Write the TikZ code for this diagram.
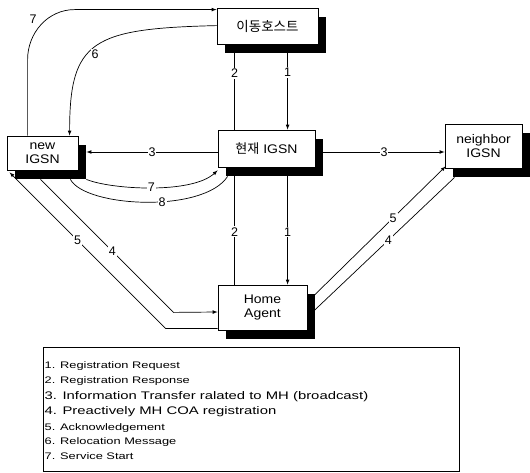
\documentclass[tikz,border=0pt]{standalone}
\usepackage{fontspec}
\setmainfont{Liberation Sans}
\newfontfamily\boxfont[FakeStretch=1.12]{Liberation Sans}
\newfontfamily\hangul{Noto Sans CJK KR}
\newfontfamily\legfont[FakeStretch=1.35]{Liberation Sans}
\usetikzlibrary{shadows,backgrounds}

\begin{document}
\begin{tikzpicture}[x=1pt, y=-1pt,
    box/.style={draw, fill=white, line width=0.8pt, inner sep=0pt, align=center,
      font=\boxfont\fontsize{12.5}{14.5}\selectfont,
      drop shadow={shadow xshift=8pt, shadow yshift=-9pt, fill=black, opacity=1}},
    msg/.style={line width=0.7pt},
    arrow/.style={msg, -latex},
    num/.style={fill=white, inner sep=1pt, font=\fontsize{12.5}{12.5}\selectfont},
    legline/.style={anchor=base west, inner sep=0pt, font=\legfont\fontsize{9.5}{11}\selectfont},
    legbig/.style={legline, font=\legfont\fontsize{11}{13}\selectfont}
  ]
  \useasboundingbox (0,0) rectangle (530,473);

  % boxes
  \node[box, minimum width=101pt, minimum height=36pt] (host) at (267.5,26)
    {\hangul\fontsize{13.5}{15}\selectfont 이동호스트};
  \node[box, minimum width=97pt, minimum height=37pt] (cur) at (266.5,148.5)
    {{\hangul\fontsize{13}{15}\selectfont 현재} IGSN};
  \node[box, minimum width=71pt, minimum height=34pt] (new) at (42.5,153) {new\\IGSN};
  \node[box, minimum width=77pt, minimum height=44pt] (nbr) at (483.5,146) {neighbor\\IGSN};
  \node[box, minimum width=89pt, minimum height=45pt] (ha) at (262.5,307.5) {Home\\Agent};

  \coordinate (c3l) at ([yshift=-3.5pt]cur.west);
  \coordinate (c3r) at ([shift={(8,3.5)}]cur.east);
  \coordinate (newsh) at ([xshift=8pt]new.east);
  \coordinate (h4) at ([yshift=-4.5pt]ha.west);
  \coordinate (h5) at ([yshift=2pt]ha.south west);

  \begin{scope}[on background layer]
    % 7 and 6 between new IGSN and the host
    \draw[arrow] ([xshift=21pt]new.north west) -- ++(0,-76)
      to[out=90, in=180] ++(47,-50) -- ([yshift=-2pt]host.north west);
    \node[num] (n7a) at (33,19) {7};
    \draw[arrow] ([yshift=-18pt]host.north west) .. controls +(-125,3) and +(0,-95) ..
      ([xshift=63pt]new.north west);
    \node[num] (n6) at (95,54) {6};

    % 1 and 2 through the current IGSN
    \draw[msg] ([xshift=17pt]cur.north west) -- ([xshift=18pt]host.south west)
      node[num, pos=0.66] {2};
    \draw[arrow] ([xshift=71pt]host.south west) -- ([xshift=70pt]cur.north west)
      node[num, pos=0.33] {1};
    \draw[msg] ([xshift=17pt]ha.north west) -- ([xshift=17pt]cur.south west)
      node[num, pos=0.45] {2};
    \draw[arrow] ([xshift=70pt]cur.south west) -- ([xshift=70pt]ha.north west)
      node[num, pos=0.55] {1};

    % 3
    \draw[arrow] (c3l) -- (c3l -| newsh) node[num, midway] {3};
    \draw[arrow] (c3r) -- (c3r -| nbr.west) node[num, midway] {3};

    % 7 and 8 from new IGSN
    \draw[arrow] ([shift={(8,9)}]new.south east) .. controls +(24,10) and +(-26,24) ..
      ([yshift=-3pt]cur.south west) node[num, pos=0.5] {7};
    \draw[msg] ([shift={(-8,9)}]new.south east) .. controls +(15,28) and +(-24,37) ..
      ([shift={(10,9)}]cur.south west) node[num, pos=0.58] {8};

    % 4 and 5 with the home agent
    \draw[arrow] ([shift={(34,9)}]new.south west) -- ++(133,133)
      node[num, pos=0.54] {4} -- (h4);
    \draw[arrow] (h5) -- ++(-52,0) -- ([shift={(3,2)}]new.south west)
      node[num, pos=0.564] {5};
    \draw[arrow] ([yshift=5.5pt]ha.east) -- ([shift={(1,-2)}]nbr.south west)
      node[num, pos=0.62] {5};
    \draw[msg] ([yshift=-9.5pt]ha.east) -- ([shift={(10,9)}]nbr.south west)
      node[num, pos=0.55] {4};
  \end{scope}

  % legend
  \node[draw, line width=0.6pt, anchor=north west, minimum width=416pt,
    minimum height=124pt] (legend) at (43,347) {};
  \node[legline] (l1) at (44.5,368) {1. Registration Request};
  \node[legline] (l2) at (44.5,383) {2. Registration Response};
  \node[legbig] (l3) at (44.5,399) {3. Information Transfer ralated to MH (broadcast)};
  \node[legbig] (l4) at (44.5,414) {4. Preactively MH COA registration};
  \node[legline] (l5) at (44.5,430) {5. Acknowledgement};
  \node[legline] (l6) at (44.5,444) {6. Relocation Message};
  \node[legline] (l7) at (44.5,459) {7. Service Start};
\end{tikzpicture}
\end{document}
